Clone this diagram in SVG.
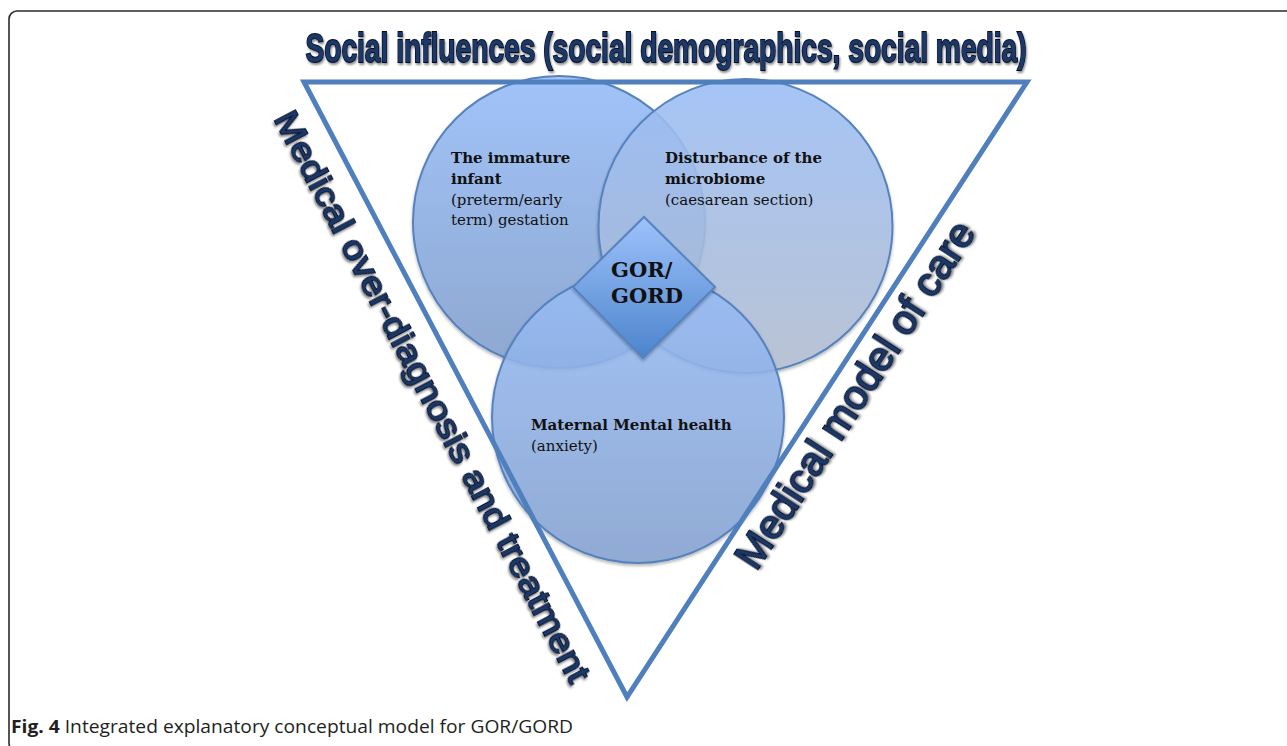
<svg xmlns="http://www.w3.org/2000/svg" width="1287" height="746" viewBox="0 0 1287 746">
  <defs>
    <linearGradient id="gradLeft" x1="0" y1="0" x2="0" y2="1">
      <stop offset="0" stop-color="#9cc1fb"/>
      <stop offset="1" stop-color="#87a3cf"/>
    </linearGradient>
    <linearGradient id="gradRight" x1="0" y1="0" x2="0" y2="1">
      <stop offset="0" stop-color="#9dc1fa"/>
      <stop offset="1" stop-color="#b4bfd2"/>
    </linearGradient>
    <linearGradient id="gradBottom" x1="0" y1="0" x2="0" y2="1">
      <stop offset="0" stop-color="#9bc0fb"/>
      <stop offset="1" stop-color="#86a3d2"/>
    </linearGradient>
    <linearGradient id="gradCore" x1="0" y1="0" x2="0" y2="1">
      <stop offset="0" stop-color="#9ec2fb"/>
      <stop offset="1" stop-color="#4c84cc"/>
    </linearGradient>
    <filter id="softShadow" x="-10%" y="-10%" width="120%" height="125%">
      <feDropShadow dx="0" dy="2" stdDeviation="1.5" flood-color="#000" flood-opacity="0.3"/>
    </filter>
    <filter id="textShadow" x="-10%" y="-30%" width="120%" height="160%">
      <feDropShadow dx="1.5" dy="2" stdDeviation="1.2" flood-color="#000" flood-opacity="0.45"/>
    </filter>
  </defs>
  <style>
    .frame { fill: none; stroke: #2b2b2b; stroke-width: 1.6; }
    .venn { stroke: #5682bd; stroke-width: 2; filter: url(#softShadow); }
    .tri { fill: none; stroke: #4f7fbd; stroke-width: 5; stroke-linejoin: miter; }
    .side { font-family: "Liberation Sans", Arial, sans-serif; fill: #1c3766; stroke: #06102a; stroke-width: 1.8; paint-order: stroke; filter: url(#textShadow); }
    .lbl { font-family: "DejaVu Serif", "Liberation Serif", serif; font-size: 15px; fill: #111; }
    .b { font-weight: bold; }
    .core { font-family: "DejaVu Serif", "Liberation Serif", serif; font-size: 21px; font-weight: bold; fill: #111; }
    .cap { font-family: "Open Sans", "Liberation Sans", sans-serif; font-size: 18px; fill: #231f20; }
  </style>

  <!-- page frame (runs off the right and bottom edges) -->
  <rect class="frame" x="9" y="11" width="1300" height="740" rx="8" ry="8"/>

  <!-- Venn circles -->
  <g id="node-immature-infant">
    <circle class="venn" cx="559" cy="222" r="146" fill="url(#gradLeft)" fill-opacity="0.9"/>
  </g>
  <g id="node-microbiome">
    <circle class="venn" cx="745.5" cy="226" r="147" fill="url(#gradRight)" fill-opacity="0.85"/>
  </g>
  <g id="node-maternal-health">
    <circle class="venn" cx="638" cy="417" r="146" fill="url(#gradBottom)" fill-opacity="0.85"/>
  </g>

  <!-- framing triangle -->
  <g id="connectors">
    <polygon class="tri" points="304,82 1027,82 627,697"/>
  </g>

  <!-- circle labels -->
  <g id="label-immature-infant">
    <text class="lbl" x="451" y="163"><tspan class="b">The immature</tspan><tspan class="b" x="451" y="184">infant</tspan><tspan x="451" y="204.5">(preterm/early</tspan><tspan x="451" y="225">term) gestation</tspan></text>
  </g>
  <g id="label-microbiome">
    <text class="lbl" x="665" y="163"><tspan class="b">Disturbance of the</tspan><tspan class="b" x="665" y="184">microbiome</tspan><tspan x="665" y="204.5">(caesarean section)</tspan></text>
  </g>
  <g id="label-maternal-health">
    <text class="lbl" x="531" y="430"><tspan class="b">Maternal Mental health</tspan><tspan x="531" y="451">(anxiety)</tspan></text>
  </g>

  <!-- central diamond -->
  <g id="node-gor-gord">
    <polygon points="644,217 715,287 643,358 573,287" fill="url(#gradCore)" stroke="#5682bd" stroke-width="2" filter="url(#softShadow)"/>
    <text class="core" x="611" y="277">GOR/</text>
    <text class="core" x="611" y="303">GORD</text>
  </g>

  <!-- influence labels along the triangle -->
  <g id="label-social">
    <text class="side" transform="translate(666,62) scale(0.704,1)" x="0" y="0" text-anchor="middle" font-size="40" font-weight="bold" stroke-width="1.6">Social influences (social demographics, social media)</text>
  </g>
  <g id="label-overdiagnosis">
    <text class="side" transform="translate(273.5,118.4) rotate(62.3)" x="0" y="0" font-size="34" textLength="640" lengthAdjust="spacingAndGlyphs">Medical over-diagnosis and treatment</text>
  </g>
  <g id="label-medical-model">
    <text class="side" transform="translate(756,572) rotate(-56.96)" x="0" y="0" font-size="40" textLength="405" lengthAdjust="spacingAndGlyphs">Medical model of care</text>
  </g>

  <!-- caption -->
  <text class="cap" x="11" y="733" textLength="562" lengthAdjust="spacingAndGlyphs"><tspan font-weight="bold">Fig. 4</tspan> Integrated explanatory conceptual model for GOR/GORD</text>
</svg>
